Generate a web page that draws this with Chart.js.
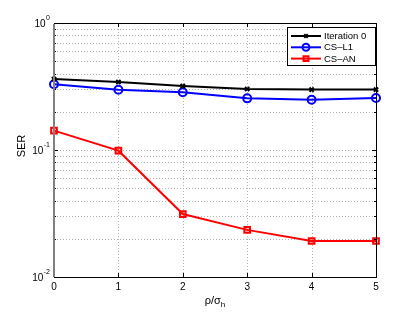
<!DOCTYPE html>
<html>
<head>
<meta charset="utf-8">
<script src="https://cdn.jsdelivr.net/npm/chart.js@4"></script>
<style>
  html, body { margin: 0; padding: 0; background: #fff; }
  #wrap { width: 415px; height: 312px; }
</style>
</head>
<body>
<div id="wrap"><canvas id="c" width="415" height="312"></canvas></div>
<script>
// data
const xValues = [0, 1, 2, 3, 4, 5];
const iter0 = [0.362, 0.343, 0.319, 0.302, 0.299, 0.299];
const csL1 = [0.329, 0.298, 0.285, 0.255, 0.249, 0.257];
const csAN = [0.142, 0.0988, 0.0313, 0.0235, 0.0192, 0.0192];
const seriesNames = ['Iteration 0', 'CS\u2013L1', 'CS\u2013AN'];
const seriesColors = ['#000000', '#0000ff', '#ff0000'];
const markerFills = ['rgba(0,0,0,0)', 'rgba(255,255,255,0)', 'rgba(255,0,0,0.2)'];
const xTicks = [0, 1, 2, 3, 4, 5];
const yTicks = [0.01, 0.02, 0.03, 0.04, 0.05, 0.06, 0.07, 0.08, 0.09,
                0.1, 0.2, 0.3, 0.4, 0.5, 0.6, 0.7, 0.8, 0.9, 1];
const yMajor = [[0.01, '-2'], [0.1, '-1'], [1, '0']];

const FONT = '"Liberation Sans", Arial, sans-serif';

function pts(ys) {
  return xValues.map((x, i) => ({ x: x, y: ys[i] }));
}

const markerStyles = [
  { pointStyle: 'crossRot', radius: 3, bw: 2 },
  { pointStyle: 'circle', radius: 4, bw: 2 },
  { pointStyle: 'rect', radius: 4, bw: 2 }
];

// grid, frame, ticks, labels and legend drawn MATLAB-style
const matlabAxes = {
  id: 'matlabAxes',
  beforeDatasetsDraw(chart) {
    const ctx = chart.ctx;
    const a = chart.chartArea;
    const xs = chart.scales.x, ys = chart.scales.y;
    ctx.save();
    ctx.strokeStyle = '#b4b4b4';
    ctx.lineWidth = 1;
    ctx.setLineDash([1, 2]);
    xTicks.slice(1, -1).forEach(v => {
      const px = Math.round(xs.getPixelForValue(v)) + 0.5;
      ctx.beginPath(); ctx.moveTo(px, a.top); ctx.lineTo(px, a.bottom); ctx.stroke();
    });
    yTicks.slice(1, -1).forEach(v => {
      const py = Math.round(ys.getPixelForValue(v)) + 0.5;
      ctx.beginPath(); ctx.moveTo(a.left, py); ctx.lineTo(a.right, py); ctx.stroke();
    });
    ctx.restore();
  },
  afterDraw(chart) {
    const ctx = chart.ctx;
    const a = chart.chartArea;
    const xs = chart.scales.x, ys = chart.scales.y;
    ctx.save();
    // inward tick marks
    ctx.strokeStyle = '#000';
    ctx.lineWidth = 1;
    xTicks.forEach(v => {
      const px = Math.round(xs.getPixelForValue(v)) + 0.5;
      ctx.beginPath();
      ctx.moveTo(px, a.bottom); ctx.lineTo(px, a.bottom - 4);
      ctx.moveTo(px, a.top); ctx.lineTo(px, a.top + 4);
      ctx.stroke();
    });
    yTicks.forEach(v => {
      const py = Math.round(ys.getPixelForValue(v)) + 0.5;
      const len = (v === 0.01 || v === 0.1 || v === 1) ? 4 : 2;
      ctx.beginPath();
      ctx.moveTo(a.left, py); ctx.lineTo(a.left + len, py);
      ctx.moveTo(a.right, py); ctx.lineTo(a.right - len, py);
      ctx.stroke();
    });
    // frame
    ctx.strokeRect(Math.round(a.left) + 0.5, Math.round(a.top) + 0.5,
                   Math.round(a.right - a.left), Math.round(a.bottom - a.top));
    ctx.strokeStyle = '#808080';
    ctx.lineWidth = 2;
    ctx.beginPath();
    ctx.moveTo(Math.round(a.left), a.top + 1);
    ctx.lineTo(Math.round(a.left), a.bottom);
    ctx.stroke();

    ctx.fillStyle = '#000';
    // y tick labels 10^k
    yMajor.forEach(([v, e]) => {
      const py = ys.getPixelForValue(v);
      ctx.textBaseline = 'middle';
      ctx.textAlign = 'right';
      ctx.font = '7px ' + FONT;
      const ew = ctx.measureText(e).width;
      const right = a.left - 4;
      ctx.fillText(e, right, py - 5);
      ctx.font = '10px ' + FONT;
      ctx.fillText('10', right - ew - 0.5, py + 1);
    });
    // x tick labels
    ctx.font = '10px ' + FONT;
    ctx.textAlign = 'center';
    ctx.textBaseline = 'middle';
    xTicks.forEach(v => {
      ctx.fillText(String(v), xs.getPixelForValue(v), a.bottom + 10);
    });
    // x title rho/sigma_h
    ctx.font = '11px ' + FONT;
    const main = '\u03c1/\u03c3';
    const mw = ctx.measureText(main).width;
    ctx.font = '8px ' + FONT;
    const sw = ctx.measureText('h').width;
    const cx = (a.left + a.right) / 2;
    const x0 = cx - (mw + sw) / 2;
    ctx.textAlign = 'left';
    ctx.font = '11px ' + FONT;
    ctx.fillText(main, x0, a.bottom + 24);
    ctx.font = '8px ' + FONT;
    ctx.fillText('h', x0 + mw, a.bottom + 28);
    // y title
    ctx.save();
    ctx.translate(22, (a.top + a.bottom) / 2 - 4);
    ctx.rotate(-Math.PI / 2);
    ctx.font = '11px ' + FONT;
    ctx.textAlign = 'center';
    ctx.fillText('SER', 0, 0);
    ctx.restore();

    // legend
    const lx = 287, ly = 27, lw = 88, lh = 38;
    ctx.fillStyle = '#fff';
    ctx.fillRect(lx, ly, lw, lh);
    ctx.strokeStyle = '#000';
    ctx.lineWidth = 1;
    ctx.strokeRect(lx + 0.5, ly + 0.5, lw, lh);
    seriesNames.forEach((name, i) => {
      const ry = ly + 9 + i * 11.3;
      ctx.strokeStyle = seriesColors[i];
      ctx.lineWidth = 2;
      ctx.beginPath(); ctx.moveTo(lx + 4, ry); ctx.lineTo(lx + 34, ry); ctx.stroke();
      const m = markerStyles[i];
      ctx.fillStyle = markerFills[i];
      Chart.helpers.drawPoint(ctx, {
        pointStyle: m.pointStyle, radius: m.radius - 0.5, borderWidth: m.bw, rotation: 0
      }, lx + 19, ry);
      ctx.fillStyle = '#000';
      ctx.font = '9.5px ' + FONT;
      ctx.textAlign = 'left';
      ctx.textBaseline = 'middle';
      ctx.fillText(name, lx + 37, ry + 0.5);
    });
    ctx.restore();
  }
};

const datasets = [iter0, csL1, csAN].map((ys, i) => ({
  label: seriesNames[i],
  data: pts(ys),
  borderColor: seriesColors[i],
  backgroundColor: markerFills[i],
  borderWidth: 2,
  pointStyle: markerStyles[i].pointStyle,
  pointRadius: markerStyles[i].radius,
  pointBorderWidth: markerStyles[i].bw,
  pointBorderColor: seriesColors[i],
  pointBackgroundColor: markerFills[i],
  tension: 0,
  clip: false
}));

new Chart(document.getElementById('c'), {
  type: 'line',
  data: { datasets: datasets },
  options: {
    responsive: false,
    animation: false,
    devicePixelRatio: 1,
    layout: { padding: { left: 0, right: 39, top: 23, bottom: 0 } },
    plugins: { legend: { display: false }, tooltip: { enabled: false } },
    scales: {
      x: {
        type: 'linear',
        min: 0, max: 5,
        grid: { display: false },
        border: { display: false },
        ticks: { display: false },
        afterFit(s) { s.height = 35; }
      },
      y: {
        type: 'logarithmic',
        min: 0.01, max: 1,
        grid: { display: false },
        border: { display: false },
        ticks: { display: false },
        afterFit(s) { s.width = 54; }
      }
    }
  },
  plugins: [matlabAxes]
});
</script>
</body>
</html>
